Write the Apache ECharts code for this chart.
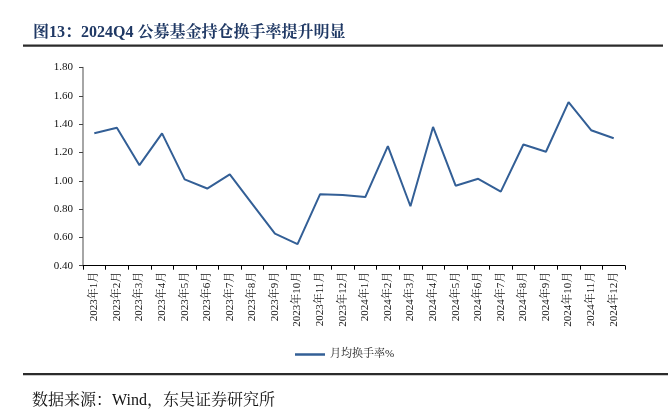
<!DOCTYPE html>
<html><head><meta charset="utf-8">
<script src="https://cdn.jsdelivr.net/npm/echarts@6/dist/echarts.min.js"></script>
<style>html,body{margin:0;padding:0;background:#fff}#c{width:668px;height:416px}</style>
</head><body><div id="c"></div>
<script>
const categories = ['2023年1月','2023年2月','2023年3月','2023年4月','2023年5月','2023年6月','2023年7月','2023年8月','2023年9月','2023年10月','2023年11月','2023年12月','2024年1月','2024年2月','2024年3月','2024年4月','2024年5月','2024年6月','2024年7月','2024年8月','2024年9月','2024年10月','2024年11月','2024年12月'];
const turnover = [1.335,1.375,1.11,1.335,1.01,0.945,1.045,0.835,0.626,0.553,0.905,0.90,0.885,1.245,0.82,1.38,0.965,1.014,0.923,1.256,1.205,1.555,1.357,1.30];
const seriesName = '月均换手率%';
const titleText = '图13：2024Q4 公募基金持仓换手率提升明显';
const sourceText = '数据来源：Wind，东吴证券研究所';
const serif = '"Liberation Serif","Noto Serif CJK SC","Noto Sans CJK SC",serif';
const chart = echarts.init(document.getElementById('c'));
chart.setOption({
  animation:false,
  title:{text:titleText,left:28,top:20,textStyle:{fontSize:16,fontWeight:'bold',color:'#1F3864',fontFamily:serif}},
  graphic:[
    {type:'rect',shape:{x:23,y:44.5,width:640,height:2.2},style:{fill:'#2b2b2b'}},
    {type:'rect',shape:{x:23,y:373,width:645,height:2.2},style:{fill:'#2b2b2b'}},
    {type:'text',left:32,top:393,style:{text:sourceText,font:'16px '+serif,fill:'#111'}}
  ],
  legend:{data:[seriesName],left:290,top:344,itemWidth:30,itemHeight:2.5,itemGap:3,icon:'rect',
    textStyle:{fontSize:11,color:'#222',fontFamily:serif}},
  grid:{left:83,top:67.5,right:43,bottom:150.3,containLabel:false},
  xAxis:{type:'category',data:categories,boundaryGap:true,
    axisLine:{lineStyle:{color:'#000',width:1}},
    axisTick:{show:true,alignWithLabel:false,length:4,lineStyle:{color:'#000'}},
    axisLabel:{rotate:90,interval:0,fontSize:11,color:'#111',fontFamily:serif,margin:6}},
  yAxis:{type:'value',min:0.4,max:1.8,interval:0.2,
    axisLine:{show:true,lineStyle:{color:'#888',width:1.5}},
    axisTick:{show:true,length:4,lineStyle:{color:'#444'}},
    splitLine:{show:false},
    axisLabel:{formatter:v=>v.toFixed(2),fontSize:11,color:'#111',fontFamily:serif,margin:10}},
  series:[{name:seriesName,type:'line',data:turnover,symbol:'none',
    lineStyle:{color:'#335F96',width:2},itemStyle:{color:'#335F96'}}]
});
</script></body></html>
